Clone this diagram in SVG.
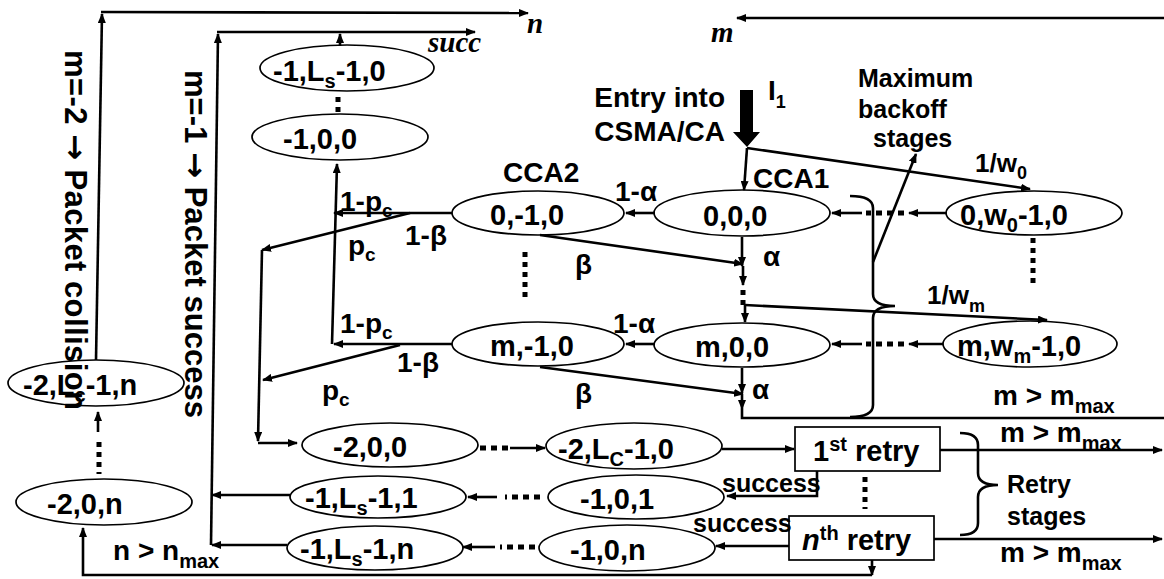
<svg xmlns="http://www.w3.org/2000/svg" width="1164" height="579" viewBox="0 0 1164 579">
<style>
.t{font-family:"Liberation Sans",Arial,sans-serif;font-weight:bold;fill:#000}
.ar{font-family:"DejaVu Sans",sans-serif;font-weight:bold}
.it{font-family:"Liberation Serif","Times New Roman",serif;font-style:italic;font-weight:bold;fill:#000}
.n ellipse,.n rect{fill:none;stroke:#000;stroke-width:1.7}
.n text{font-family:"Liberation Sans",Arial,sans-serif;font-weight:bold;font-size:29px;fill:#000}
#connectors path{fill:none;stroke:#000;stroke-width:2.6}
#connectors path.a{marker-end:url(#ah)}
#connectors path.d{stroke-width:5;stroke-dasharray:6 5}
#connectors path.v{stroke-width:5;stroke-dasharray:5 5}
</style>
<defs>
<marker id="ah" viewBox="0 0 10 8" refX="9" refY="4" markerWidth="10" markerHeight="8" orient="auto" markerUnits="userSpaceOnUse">
<path d="M0,0 L10,4 L0,8 z" fill="#000"/>
</marker>
</defs>
<rect width="1164" height="579" fill="#fff"/>

<g id="connectors">
<path class="a" d="M96,360 L102,14"/>
<path class="a" d="M101,12 L528,13"/>
<path class="a" d="M211,545 L218,34"/>
<path class="a" d="M217,32 L475,32"/>
<path class="a" d="M340,46 L340,34"/>
<path class="v" d="M338,97 L338,117"/>
<path d="M1164,18 L745,18"/>
<path class="a" d="M745,18 L737,18"/>
<path class="a" d="M747,148 L744,190"/>
<path class="a" d="M747,148 L1030,189"/>
<path class="a" d="M655,213 L626,213"/>
<path class="a" d="M947,213 L909,213"/>
<path class="d" d="M904,213 L866,213"/>
<path class="a" d="M862,213 L832,213"/>
<path class="a" d="M943,344 L909,344"/>
<path class="d" d="M904,344 L866,344"/>
<path class="a" d="M862,344 L832,344"/>
<path class="a" d="M655,344 L626,344"/>
<path class="a" d="M742,237 L742,266"/>
<path class="a" d="M743,266 L743,285"/>
<path class="v" d="M743,290 L743,305"/>
<path class="a" d="M745,305 L745,322"/>
<path class="a" d="M540,235 L743,264"/>
<path class="a" d="M745,305 L1047,320"/>
<path class="a" d="M742,368 L742,393"/>
<path class="a" d="M742,395 L742,409"/>
<path d="M742,409 L742,418 L1164,418"/>
<path class="a" d="M540,367 L743,394"/>
<path class="a" d="M452,213 L334,213"/>
<path class="a" d="M410,213 L262,250"/>
<path class="a" d="M452,344 L334,344"/>
<path class="a" d="M400,345 L263,380"/>
<path class="a" d="M332,344 L337,164"/>
<path class="a" d="M262,250 L258,441"/>
<path class="a" d="M258,443 L297,443"/>
<path class="d" d="M480,448 L508,448"/>
<path class="a" d="M510,448 L545,448"/>
<path class="a" d="M722,449 L794,449"/>
<path class="a" d="M940,450 L1162,450"/>
<path class="a" d="M934,539 L1162,539"/>
<path class="a" d="M817,471 L817,496 L727,496"/>
<path class="a" d="M789,546 L716,546"/>
<path class="d" d="M540,497 L505,497"/>
<path class="a" d="M497,497 L468,497"/>
<path class="d" d="M535,547 L500,547"/>
<path class="a" d="M495,547 L463,547"/>
<path class="a" d="M290,495 L212,495"/>
<path class="a" d="M287,545 L212,545"/>
<path class="a" d="M872,560 L872,575"/>
<path class="a" d="M872,575 L83,575 L83,528"/>
<path class="v" d="M99,442 L99,474"/>
<path class="a" d="M98,432 L98,412"/>
<path class="v" d="M1033,238 L1033,288"/>
<path class="v" d="M525,252 L525,298"/>
<path class="v" d="M865,477 L865,509"/>
<path d="M850,196 Q873,196 873,208 L873,294 Q873,306 895,306 Q873,306 873,318 L873,405 Q873,417 850,417"/>
<path class="a" d="M873,262 L916,154"/>
<path d="M960,433 Q978,433 978,445 L978,473 Q978,485 998,485 Q978,485 978,497 L978,523 Q978,535 960,535"/>
</g>

<g id="entry">
<path d="M740,90 L753,90 L753,132 L760,132 L747,147 L733,132 L740,132 z" fill="#000"/>
</g>

<g id="n1" class="n"><ellipse cx="347" cy="68" rx="87" ry="23"/><text x="273" y="81">-1,L<tspan dy="7" font-size="20">s</tspan><tspan dy="-7">-1,0</tspan></text></g>
<g id="n2" class="n"><ellipse cx="340" cy="137" rx="88" ry="23"/><text x="283" y="149">-1,0,0</text></g>
<g id="n3" class="n"><ellipse cx="538" cy="213" rx="86" ry="22"/><text x="490" y="225">0,-1,0</text></g>
<g id="n4" class="n"><ellipse cx="742" cy="213" rx="88" ry="23"/><text x="703" y="226">0,0,0</text></g>
<g id="n5" class="n"><ellipse cx="1034" cy="213" rx="88" ry="22"/><text x="960" y="225">0,w<tspan dy="7" font-size="20">0</tspan><tspan dy="-7">-1,0</tspan></text></g>
<g id="n6" class="n"><ellipse cx="538" cy="344" rx="86" ry="22"/><text x="490" y="356">m,-1,0</text></g>
<g id="n7" class="n"><ellipse cx="742" cy="345" rx="88" ry="22"/><text x="695" y="357">m,0,0</text></g>
<g id="n8" class="n"><ellipse cx="1030" cy="344" rx="87" ry="23"/><text x="957" y="356">m,w<tspan dy="7" font-size="20">m</tspan><tspan dy="-7">-1,0</tspan></text></g>
<g id="n9" class="n"><ellipse cx="96" cy="383" rx="88" ry="23"/><text x="23" y="395">-2,L<tspan dy="7" font-size="20">c</tspan><tspan dy="-7">-1,n</tspan></text></g>
<g id="n10" class="n"><ellipse cx="104" cy="502" rx="88" ry="23"/><text x="47" y="514">-2,0,n</text></g>
<g id="n11" class="n"><ellipse cx="390" cy="445" rx="88" ry="22"/><text x="333" y="457">-2,0,0</text></g>
<g id="n12" class="n"><ellipse cx="634" cy="446" rx="88" ry="23"/><text x="558" y="459">-2,L<tspan dy="7" font-size="20">C</tspan><tspan dy="-7">-1,0</tspan></text></g>
<g id="n13" class="n"><ellipse cx="378" cy="497" rx="88" ry="21"/><text x="305" y="508">-1,L<tspan dy="7" font-size="20">s</tspan><tspan dy="-7">-1,1</tspan></text></g>
<g id="n14" class="n"><ellipse cx="636" cy="497" rx="88" ry="22"/><text x="580" y="509">-1,0,1</text></g>
<g id="n15" class="n"><ellipse cx="375" cy="548" rx="88" ry="22"/><text x="300" y="559">-1,L<tspan dy="7" font-size="20">s</tspan><tspan dy="-7">-1,n</tspan></text></g>
<g id="n16" class="n"><ellipse cx="627" cy="548" rx="88" ry="23"/><text x="570" y="560">-1,0,n</text></g>
<g id="retry1" class="n"><rect x="795" y="427" width="145" height="44"/><text x="813" y="461" font-size="30">1<tspan dy="-10" font-size="20">st</tspan><tspan dy="10"> retry</tspan></text></g>
<g id="retryn" class="n"><rect x="789" y="516" width="145" height="44"/><text x="802" y="550" font-size="30"><tspan font-style="italic">n</tspan><tspan dy="-10" font-size="20">th</tspan><tspan dy="10"> retry</tspan></text></g>

<g id="labels">
<text class="t" font-size="31" transform="translate(65,50) rotate(90)" textLength="360" lengthAdjust="spacing">m=-2 <tspan class="ar">→</tspan> Packet collision</text>
<text class="t" font-size="31" transform="translate(185,70) rotate(90)" textLength="348" lengthAdjust="spacing">m=-1 <tspan class="ar">→</tspan> Packet success</text>
<text class="it" font-size="29" x="527" y="33">n</text>
<text class="it" font-size="29" x="428" y="52">succ</text>
<text class="it" font-size="29" x="711" y="42">m</text>
<text class="t" font-size="28" x="725" y="107" text-anchor="end">Entry into</text>
<text class="t" font-size="28" x="725" y="141" text-anchor="end">CSMA/CA</text>
<text class="t" font-size="28" x="768" y="100">I<tspan dy="8" font-size="18">1</tspan></text>
<text class="t" font-size="25" x="858" y="87">Maximum</text>
<text class="t" font-size="25" x="858" y="118">backoff</text>
<text class="t" font-size="25" x="873" y="147">stages</text>
<text class="t" font-size="28" x="753" y="188">CCA1</text>
<text class="t" font-size="28" x="503" y="182">CCA2</text>
<text class="t" font-size="26" x="975" y="172">1/w<tspan dy="7" font-size="18">0</tspan></text>
<text class="t" font-size="26" x="927" y="304">1/w<tspan dy="8" font-size="18">m</tspan></text>
<text class="t" font-size="28" x="615" y="201">1-α</text>
<text class="t" font-size="28" x="613" y="333">1-α</text>
<text class="t" font-size="28" x="763" y="266">α</text>
<text class="t" font-size="28" x="752" y="399">α</text>
<text class="t" font-size="28" x="575" y="274">β</text>
<text class="t" font-size="28" x="575" y="403">β</text>
<text class="t" font-size="28" x="405" y="245">1-β</text>
<text class="t" font-size="28" x="397" y="372">1-β</text>
<text class="t" font-size="28" x="340" y="211">1-p<tspan dy="6" font-size="19">c</tspan></text>
<text class="t" font-size="28" x="340" y="333">1-p<tspan dy="6" font-size="19">c</tspan></text>
<text class="t" font-size="28" x="348" y="255">p<tspan dy="6" font-size="19">c</tspan></text>
<text class="t" font-size="28" x="322" y="400">p<tspan dy="6" font-size="19">c</tspan></text>
<text class="t" font-size="28" x="993" y="405">m &gt; m<tspan dy="8" font-size="20">max</tspan></text>
<text class="t" font-size="28" x="1000" y="442">m &gt; m<tspan dy="8" font-size="20">max</tspan></text>
<text class="t" font-size="28" x="1000" y="562">m &gt; m<tspan dy="8" font-size="20">max</tspan></text>
<text class="t" font-size="28" x="113" y="560">n &gt; n<tspan dy="8" font-size="20">max</tspan></text>
<text class="t" font-size="25" x="722" y="492">success</text>
<text class="t" font-size="25" x="693" y="532">success</text>
<text class="t" font-size="25" x="1007" y="493">Retry</text>
<text class="t" font-size="25" x="1007" y="525">stages</text>
</g>
</svg>
